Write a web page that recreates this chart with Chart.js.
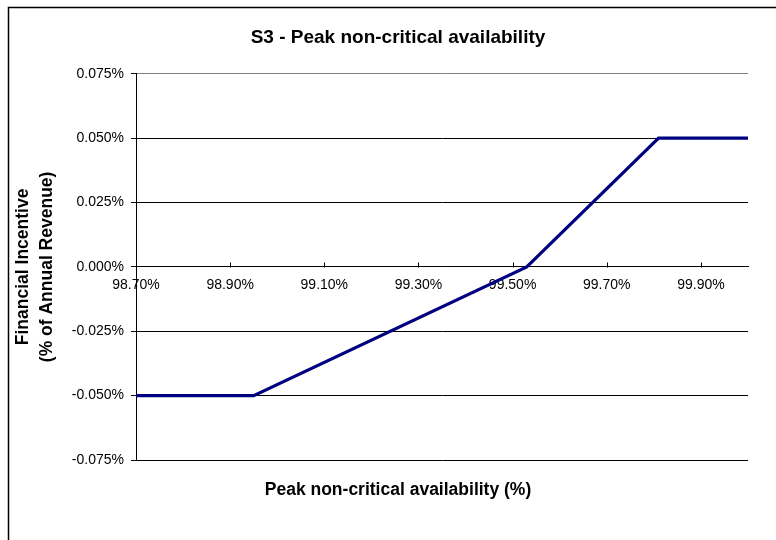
<!DOCTYPE html>
<html>
<head>
<meta charset="utf-8">
<script src="https://cdn.jsdelivr.net/npm/chart.js@4"></script>
<style>
  html, body { margin: 0; padding: 0; background: #ffffff; }
  canvas { display: block; }
</style>
</head>
<body>
<canvas id="c" width="776" height="540"></canvas>
<script>
// Incentive curve for peak non-critical availability
const availability = [98.70, 98.95, 99.53, 99.81, 100.00];   // %
const incentive    = [-0.050, -0.050, 0.000, 0.050, 0.050];  // % of annual revenue
const xTickValues  = [98.70, 98.90, 99.10, 99.30, 99.50, 99.70, 99.90];
const yTickValues  = [-0.075, -0.050, -0.025, 0.000, 0.025, 0.050, 0.075];

const FONT = "'Liberation Sans', Arial, sans-serif";

// Frame round the whole chart, plus upward tick marks on the category axis
const framePlugin = {
  id: 'frame',
  beforeDraw(chart) {
    const ctx = chart.ctx;
    ctx.save();
    ctx.fillStyle = '#ffffff';
    ctx.fillRect(0, 0, chart.width, chart.height);
    ctx.strokeStyle = '#000000';
    ctx.lineWidth = 1.5;
    ctx.strokeRect(8.5, 7.5, chart.width + 20, chart.height + 20);
    ctx.restore();
  },
  afterDraw(chart) {
    const ctx = chart.ctx;
    const xs = chart.scales.x, ys = chart.scales.y;
    const y0 = Math.round(ys.getPixelForValue(0)) + 0.5;
    ctx.save();
    ctx.strokeStyle = '#000000';
    ctx.lineWidth = 1;
    ctx.beginPath();
    xTickValues.forEach(v => {
      const px = Math.round(xs.getPixelForValue(v)) + 0.5;
      ctx.moveTo(px, y0);
      ctx.lineTo(px, y0 - 5);
    });
    ctx.stroke();
    ctx.restore();
  }
};

new Chart(document.getElementById('c'), {
  type: 'line',
  data: {
    datasets: [{
      data: availability.map((a, i) => ({ x: a, y: incentive[i] })),
      borderColor: '#000080',
      borderWidth: 3.2,
      pointRadius: 0,
      tension: 0,
      fill: false
    }]
  },
  options: {
    responsive: false,
    animation: false,
    layout: { padding: { left: 20, right: 0, top: 0, bottom: 0 } },
    plugins: {
      legend: { display: false },
      tooltip: { enabled: false },
      title: {
        display: true,
        text: 'S3 - Peak non-critical availability',
        color: '#000000',
        font: { family: FONT, size: 19, weight: 'bold', lineHeight: 1.2 },
        padding: { top: 26, bottom: 25 }
      },
      subtitle: {
        display: true,
        position: 'bottom',
        text: 'Peak non-critical availability (%)',
        color: '#000000',
        font: { family: FONT, size: 17.5, weight: 'bold', lineHeight: 1.2 },
        padding: { top: 20, bottom: 39 }
      }
    },
    scales: {
      x: {
        type: 'linear',
        position: { y: 0 },
        min: 98.70,
        max: 100.00,
        afterBuildTicks(scale) { scale.ticks = xTickValues.map(v => ({ value: v })); },
        grid: { drawOnChartArea: false, drawTicks: false },
        border: { display: true, color: '#000000', width: 1 },
        ticks: {
          padding: 10,
          color: '#000000',
          font: { family: FONT, size: 14 },
          maxRotation: 0,
          autoSkip: false,
          callback: v => v.toFixed(2) + '%'
        }
      },
      y: {
        min: -0.075,
        max: 0.075,
        afterBuildTicks(scale) { scale.ticks = yTickValues.map(v => ({ value: v })); },
        afterFit(scale) { scale.width = 116; },
        grid: {
          color: c => (c.tick && c.tick.value >= 0.075 - 1e-9) ? '#808080' : '#000000',
          tickColor: '#000000',
          tickLength: 5,
          lineWidth: 1
        },
        border: { display: true, color: '#000000', width: 1 },
        ticks: {
          padding: 7,
          color: '#000000',
          font: { family: FONT, size: 14 },
          callback: v => v.toFixed(3) + '%'
        },
        title: {
          display: true,
          text: ['Financial Incentive', '(% of Annual Revenue)'],
          color: '#000000',
          font: { family: FONT, size: 17.5, weight: 'bold', lineHeight: 1.37 },
          padding: { top: -9, bottom: 0 }
        }
      },
      // empty right-hand axis that only reserves the margin beside the plot
      yRight: {
        position: 'right',
        display: true,
        afterFit(scale) { scale.width = 28; },
        grid: { display: false, drawTicks: false },
        border: { display: false },
        ticks: { display: false }
      }
    }
  },
  plugins: [framePlugin]
});
</script>
</body>
</html>
